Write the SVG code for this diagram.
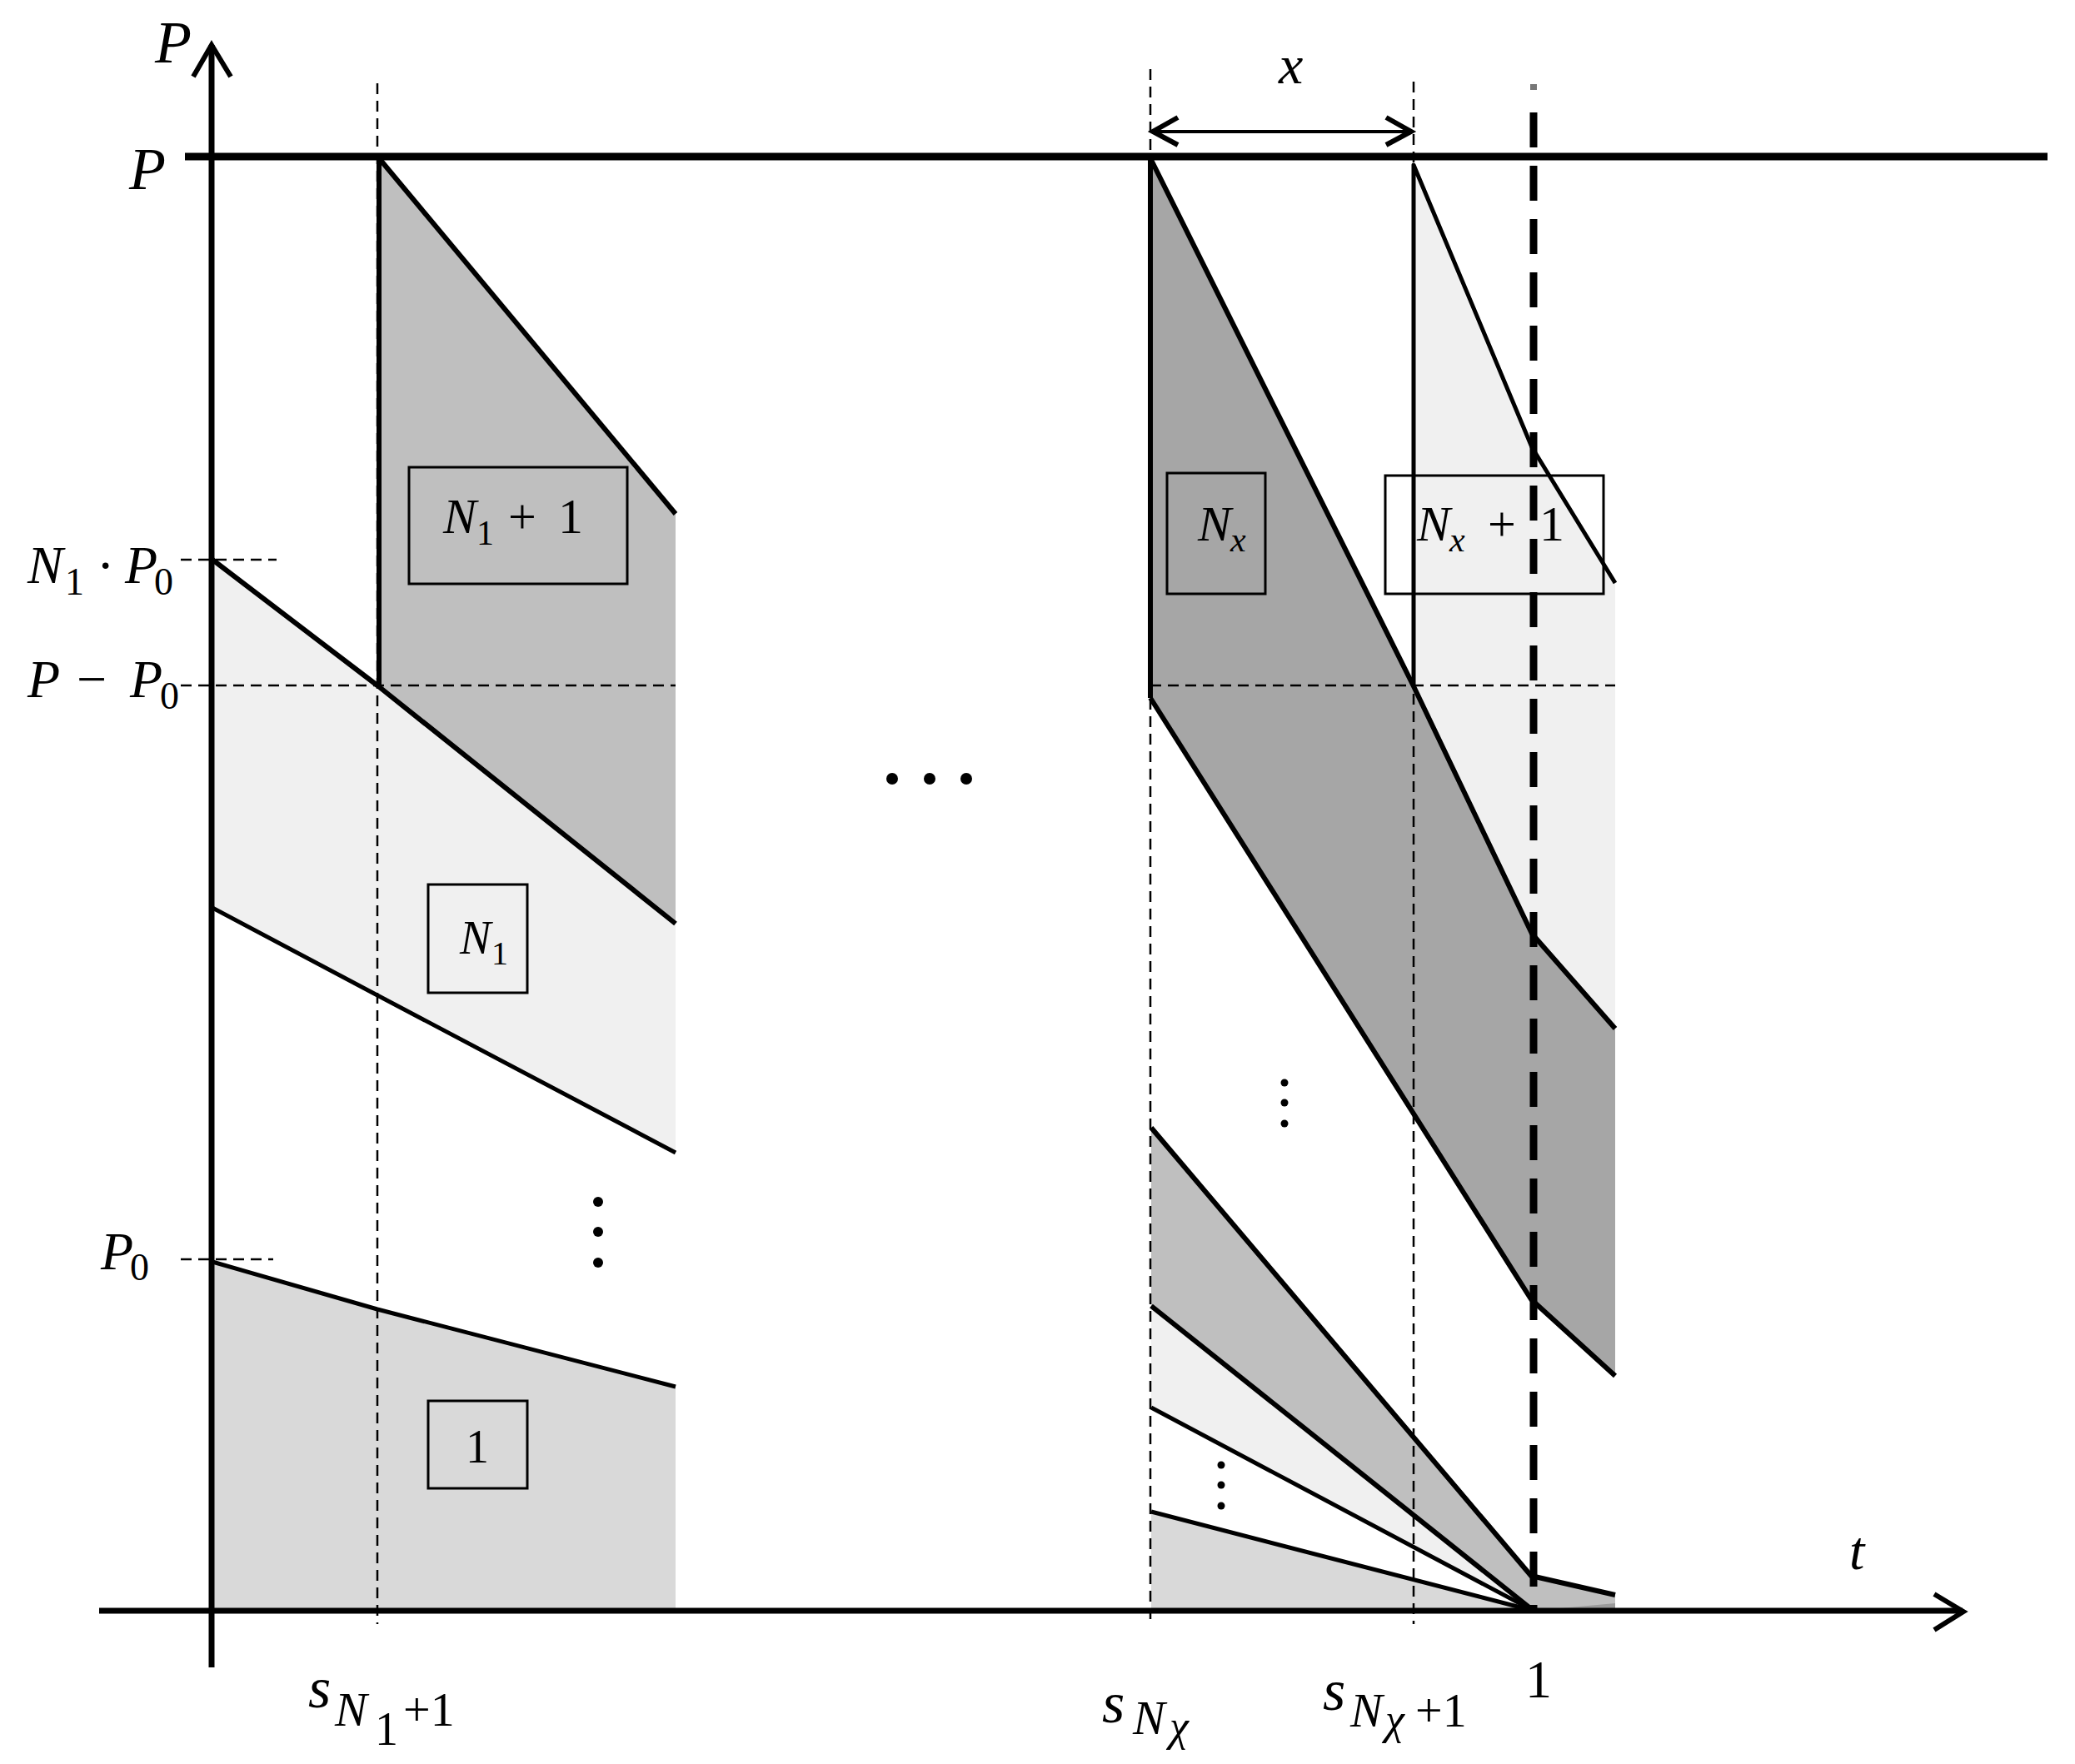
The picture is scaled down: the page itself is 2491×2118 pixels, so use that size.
<svg xmlns="http://www.w3.org/2000/svg" width="2491" height="2118" viewBox="0 0 2491 2118">
<style>
  text { font-family: "Liberation Serif", "DejaVu Serif", serif; fill: #000; }
  .it { font-style: italic; }
  .thick { stroke: #000; stroke-width: 6; fill: none; stroke-linejoin: round; }
  .thin { stroke: #000; stroke-width: 5; fill: none; stroke-linejoin: round; }
  .dash { stroke: #000; stroke-width: 2.5; stroke-dasharray: 13 8; fill: none; }
  .bdash { stroke: #000; stroke-width: 9; stroke-dasharray: 42 22; fill: none; }
  .box { stroke: #000; stroke-width: 3; fill: none; }
  .axis { stroke: #000; stroke-width: 7; fill: none; }
  .arrow { stroke: #000; stroke-width: 6; fill: none; stroke-linecap: butt; stroke-linejoin: miter; }
  .g1 { fill: #f0f0f0; }
  .g2 { fill: #d9d9d9; }
  .g3 { fill: #bfbfbf; }
  .g4 { fill: #a6a6a6; }
</style>
<rect x="0" y="0" width="2491" height="2118" fill="#fff"/>

<!-- fills -->
<g id="fills">
  <polygon class="g2" points="255,1515 453,1572 811,1665 811,1934 255,1934"/>
  <polygon class="g1" points="255,672 453,823 811,1109 811,1384 453,1195 255,1090"/>
  <polygon class="g3" points="455,190 811,617 811,1109 455,823"/>
  <polygon class="g1" points="1697,198 1839,537 1939,700 1939,1235 1839,1121 1697,824"/>
  <polygon class="g4" points="1381,190 1697,824 1839,1121 1939,1235 1939,1652 1838,1560 1381,838"/>
  <polygon class="g3" points="1382,1354 1838,1892 1939,1915 1939,1934 1841,1934 1382,1568"/>
  <polygon fill="#9a9a9a" points="1841,1934 1939,1925 1939,1934"/>
  <polygon class="g1" points="1382,1568 1841,1934 1382,1690"/>
  <polygon class="g2" points="1382,1815 1841,1934 1382,1934"/>
</g>

<!-- dashed guides -->
<g id="guides">
  <line class="dash" x1="453" y1="100" x2="453" y2="1950"/>
  <line class="dash" x1="1381" y1="83" x2="1381" y2="1947"/>
  <line class="dash" x1="1697" y1="98" x2="1697" y2="1950"/>
  <line class="dash" x1="217" y1="672" x2="332" y2="672"/>
  <line class="dash" x1="217" y1="823" x2="811" y2="823"/>
  <line class="dash" x1="1381" y1="823" x2="1939" y2="823"/>
  <line class="dash" x1="217" y1="1512" x2="328" y2="1512"/>
</g>

<!-- connectors / curves -->
<g id="connectors">
  <!-- left part -->
  <polyline class="thin" points="255,1515 453,1572 811,1665"/>
  <polyline class="thin" points="255,1090 453,1195 811,1384"/>
  <polyline class="thick" points="255,672 453,823 811,1109"/>
  <polyline class="thick" points="455,823 455,190 811,617"/>
  <!-- right part -->
  <polyline class="thick" points="1381,838 1381,190 1697,824 1839,1121 1939,1235"/>
  <polyline class="thick" points="1381,838 1838,1560 1939,1652"/>
  <polyline class="thin" points="1697,824 1697,198 1839,537 1939,700"/>
  <polyline class="thick" points="1382,1354 1838,1892 1939,1915"/>
  <polyline class="thick" points="1382,1568 1841,1934"/>
  <polyline class="thin" points="1382,1690 1841,1934"/>
  <polyline class="thin" points="1382,1815 1841,1934"/>
  <!-- bold dashed t = 1 -->
  <line stroke="#777" stroke-width="8" x1="1841" y1="101" x2="1841" y2="108"/>
  <line class="bdash" x1="1841" y1="135" x2="1841" y2="1934"/>
  <!-- top line P -->
  <line stroke="#000" stroke-width="9" x1="222" y1="188" x2="2458" y2="188"/>
  <!-- axes -->
  <line class="axis" x1="254" y1="54" x2="254" y2="2002"/>
  <polyline class="arrow" points="232,92 254,54 277,92"/>
  <line class="axis" x1="119" y1="1934" x2="2356" y2="1934"/>
  <polyline class="arrow" points="2322,1914 2357,1935 2322,1957"/>
  <!-- x double arrow -->
  <line stroke="#000" stroke-width="4" x1="1384" y1="158" x2="1693" y2="158"/>
  <polyline class="arrow" stroke-width="5" points="1414,141 1384,158 1414,174"/>
  <polyline class="arrow" stroke-width="5" points="1664,141 1694,158 1664,174"/>
</g>

<!-- dots -->
<g id="dots">
  <circle cx="718" cy="1443" r="6"/>
  <circle cx="718" cy="1479" r="6"/>
  <circle cx="718" cy="1516" r="6"/>
  <circle cx="1071" cy="935" r="7"/>
  <circle cx="1116" cy="935" r="7"/>
  <circle cx="1160" cy="935" r="7"/>
  <circle cx="1542" cy="1300" r="4.5"/>
  <circle cx="1542" cy="1324" r="4.5"/>
  <circle cx="1542" cy="1349" r="4.5"/>
  <circle cx="1466" cy="1759" r="4.5"/>
  <circle cx="1466" cy="1783" r="4.5"/>
  <circle cx="1466" cy="1808" r="4.5"/>
</g>

<!-- region nodes -->
<g id="node-N1plus1">
  <rect class="box" x="491" y="561" width="262" height="140"/>
  <text font-size="60"><tspan class="it" x="532" y="640">N</tspan><tspan font-size="42" x="572" y="654">1</tspan><tspan x="610" y="640">+</tspan><tspan x="670" y="640">1</tspan></text>
</g>
<g id="node-N1">
  <rect class="box" x="514" y="1062" width="119" height="130"/>
  <text font-size="56"><tspan class="it" x="552" y="1145">N</tspan><tspan font-size="40" x="590" y="1158">1</tspan></text>
</g>
<g id="node-1">
  <rect class="box" x="514" y="1682" width="119" height="105"/>
  <text font-size="56" x="573" y="1756" text-anchor="middle">1</text>
</g>
<g id="node-Nx">
  <rect class="box" x="1401" y="568" width="118" height="145"/>
  <text font-size="60"><tspan class="it" x="1438" y="649">N</tspan><tspan class="it" font-size="42" x="1477" y="662">x</tspan></text>
</g>
<g id="node-Nxplus1">
  <rect class="box" x="1663" y="571" width="262" height="142"/>
  <text font-size="60"><tspan class="it" x="1701" y="649">N</tspan><tspan class="it" font-size="42" x="1740" y="662">x</tspan><tspan x="1786" y="649">+</tspan><tspan x="1848" y="649">1</tspan></text>
</g>

<!-- axis labels -->
<g id="labels">
  <text class="it" font-size="72" x="186" y="75">P</text>
  <text class="it" font-size="72" x="155" y="227">P</text>
  <text class="it" font-size="66" x="2220" y="1884">t</text>
  <text font-size="64" x="1847" y="2038" text-anchor="middle">1</text>
  <text class="it" font-size="66" x="1535" y="100">x</text>
  <text font-size="64"><tspan class="it" x="33" y="700">N</tspan><tspan font-size="46" x="78" y="714">1</tspan><tspan x="116" y="700">·</tspan><tspan class="it" x="150" y="700">P</tspan><tspan font-size="46" x="185" y="714">0</tspan></text>
  <text font-size="64"><tspan class="it" x="33" y="837">P</tspan><tspan x="92" y="837">−</tspan><tspan class="it" x="156" y="837">P</tspan><tspan font-size="46" x="192" y="851">0</tspan></text>
  <text font-size="64"><tspan class="it" x="121" y="1524">P</tspan><tspan font-size="46" x="156" y="1537">0</tspan></text>
  <text font-size="70"><tspan class="it" x="370" y="2050">s</tspan><tspan class="it" font-size="58" x="402" y="2072">N</tspan><tspan font-size="56" x="450" y="2095">1</tspan><tspan font-size="58" x="484" y="2072">+1</tspan></text>
  <text font-size="70"><tspan class="it" x="1323" y="2068">s</tspan><tspan class="it" font-size="58" x="1360" y="2082">N</tspan><tspan class="it" font-size="52" x="1404" y="2090">χ</tspan></text>
  <text font-size="70"><tspan class="it" x="1588" y="2053">s</tspan><tspan class="it" font-size="58" x="1621" y="2073">N</tspan><tspan class="it" font-size="52" x="1663" y="2082">χ</tspan><tspan font-size="58" x="1699" y="2073">+1</tspan></text>
</g>
</svg>
